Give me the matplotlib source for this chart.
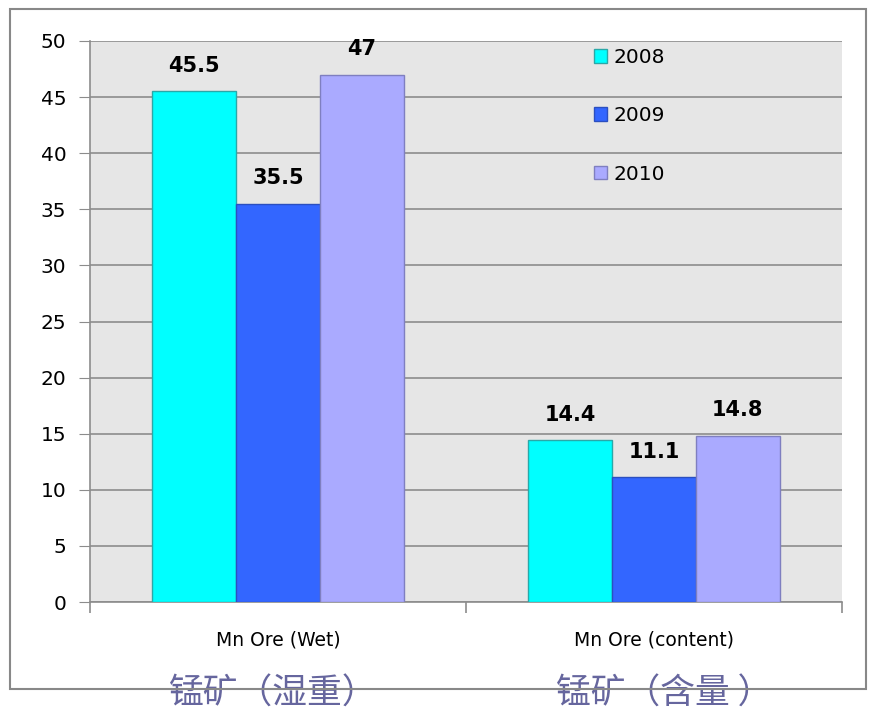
from matplotlib import pyplot as plt
from matplotlib.patches import Rectangle
import numpy as np

categories = ['Mn Ore (Wet)', 'Mn Ore (content)']
cn_labels = ['锰矿（湿重）', '锰矿（含量 ）']
years = ['2008', '2009', '2010']
values = {
    '2008': [45.5, 14.4],
    '2009': [35.5, 11.1],
    '2010': [47, 14.8],
}
value_text = {
    '2008': ['45.5', '14.4'],
    '2009': ['35.5', '11.1'],
    '2010': ['47', '14.8'],
}
colors = ['#00FFFF', '#3366FF', '#AAAAFF']
edges = ['#2AA8A8', '#2B4FC0', '#7F7FC0']

plt.rcParams['font.family'] = ['DejaVu Sans']

fig = plt.figure(figsize=(8.69, 7.1), dpi=100)
ax = fig.add_axes([90 / 869, 108 / 710, 752 / 869, 561 / 710])
ax.set_facecolor('#E6E6E6')

# outer chart border
fig.patches.append(Rectangle((10 / 869, 21 / 710), 856 / 869, 680 / 710,
                             transform=fig.transFigure, fill=False,
                             edgecolor='#888888', linewidth=1.5, zorder=0))

x = np.arange(len(categories))
w = 0.223
for i, y in enumerate(years):
    pos = x + (i - 1) * w
    ax.bar(pos, values[y], width=w, color=colors[i], edgecolor=edges[i],
           linewidth=1, label=y, zorder=3)
    for p, v, t in zip(pos, values[y], value_text[y]):
        ax.text(p, v + 1.4, t, ha='center', va='bottom', fontsize=15,
                fontweight='bold', zorder=4)

ax.set_xlim(-0.5, 1.5)
ax.set_ylim(0, 50)
ax.set_yticks(range(0, 51, 5))
ax.yaxis.grid(True, color='#8C8C8C', linewidth=1.2, zorder=1)
ax.tick_params(axis='y', labelsize=14.5, length=8, color='#8C8C8C', pad=9)

ax.set_xticks([-0.5, 0.5, 1.5])
ax.set_xticklabels([])
ax.tick_params(axis='x', length=8, color='#8C8C8C', width=1.2)
for xi, lab in zip(x, categories):
    ax.text(xi, -3.4, lab, ha='center', va='center', fontsize=13.5)
# chinese captions sit a bit left of the category centres
for xi, lab in zip([-0.29, 0.74], cn_labels):
    ax.text(xi, -8.2, lab, ha='left', va='center', fontsize=25,
            color='#66669E', family=['Noto Sans CJK SC', 'DejaVu Sans'])

for s in ['top', 'right']:
    ax.spines[s].set_visible(False)
for s in ['left', 'bottom']:
    ax.spines[s].set_color('#8C8C8C')
    ax.spines[s].set_linewidth(1.2)

ax.legend(loc='upper left', bbox_to_anchor=((594 - 90) / 752, (602 - 48) / 561),
          frameon=False, fontsize=14.5, handlelength=0.65, handleheight=0.65,
          handletextpad=0.3, labelspacing=1.95, borderaxespad=0, borderpad=0)

fig.savefig('out.png', dpi=100)
